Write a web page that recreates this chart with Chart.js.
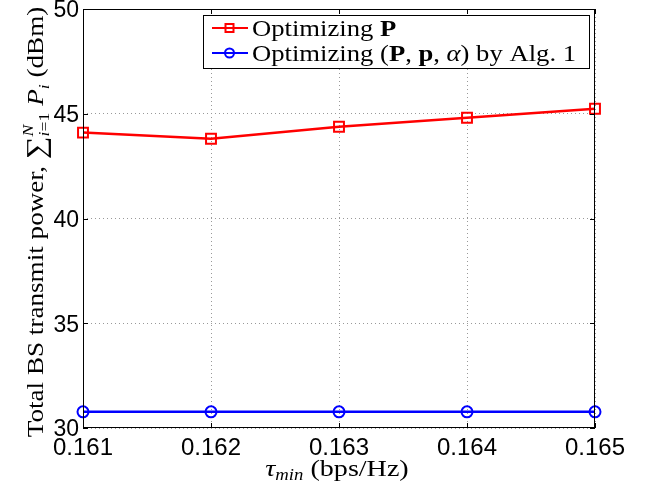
<!DOCTYPE html>
<html>
<head>
<meta charset="utf-8">
<script src="https://cdn.jsdelivr.net/npm/chart.js@4/dist/chart.umd.min.js"></script>
<style>
  html, body { margin: 0; padding: 0; background: #fff; }
  #wrap { width: 648px; height: 488px; }
</style>
</head>
<body>
<div id="wrap"><canvas id="chart"></canvas></div>
<script>
// data
const tauLabels = ['0.161', '0.162', '0.163', '0.164', '0.165'];
const powerOptP = [44.10, 43.81, 44.38, 44.81, 45.24];
const powerOptAll = [30.77, 30.77, 30.77, 30.77, 30.77];

const serif = '"Liberation Serif", "DejaVu Serif", serif';
const sans = '"Liberation Sans", Arial, sans-serif';

// draw a run of text pieces (font / baseline shift), stretched by sx (CM is wider than Times)
function drawRich(ctx, parts, x, y, align, sx) {
  sx = sx || 1;
  let total = 0;
  const widths = parts.map(p => {
    ctx.font = p.font;
    const w = ctx.measureText(p.text).width;
    if (!p.stack) total += w;
    return w;
  });
  ctx.save();
  ctx.translate(align === 'center' ? x - total * sx / 2 : x, y);
  ctx.scale(sx, 1);
  ctx.textBaseline = 'alphabetic';
  ctx.textAlign = 'left';
  let cx = 0;
  parts.forEach((p, i) => {
    ctx.font = p.font;
    ctx.fillText(p.text, cx, p.dy || 0);
    if (!p.stack) cx += widths[i];
  });
  ctx.restore();
}

const legendText = [
  [
    { text: 'Optimizing ', font: '24px ' + serif },
    { text: 'P', font: 'bold 24px ' + serif }
  ],
  [
    { text: 'Optimizing (', font: '24px ' + serif },
    { text: 'P', font: 'bold 24px ' + serif },
    { text: ', ', font: '24px ' + serif },
    { text: 'p', font: 'bold 24px ' + serif },
    { text: ', ', font: '24px ' + serif },
    { text: 'α', font: 'italic 24px ' + serif },
    { text: ') by Alg. 1', font: '24px ' + serif }
  ]
];

const matlabFrame = {
  id: 'matlabFrame',
  afterDraw(chart) {
    const ctx = chart.ctx;
    const a = chart.chartArea;
    const xs = chart.scales.x, ys = chart.scales.y;
    ctx.save();

    // box and inward ticks
    ctx.strokeStyle = '#000';
    ctx.lineWidth = 1;
    ctx.strokeRect(a.left + 0.5, a.top + 0.5, a.right - a.left - 1, a.bottom - a.top - 1);
    ctx.beginPath();
    xs.ticks.forEach((t, i) => {
      const px = Math.round(xs.getPixelForTick(i)) + 0.5;
      ctx.moveTo(px, a.bottom); ctx.lineTo(px, a.bottom - 5);
      ctx.moveTo(px, a.top); ctx.lineTo(px, a.top + 5);
    });
    ys.ticks.forEach(t => {
      const py = Math.round(ys.getPixelForValue(t.value)) + 0.5;
      ctx.moveTo(a.left, py); ctx.lineTo(a.left + 5, py);
      ctx.moveTo(a.right, py); ctx.lineTo(a.right - 5, py);
    });
    ctx.stroke();

    // legend inside the axes
    const lx = 203, ly = 15, lw = 386, lh = 53;
    ctx.fillStyle = '#fff';
    ctx.fillRect(lx, ly, lw, lh);
    ctx.strokeRect(lx + 0.5, ly + 0.5, lw, lh);
    chart.data.datasets.forEach((ds, i) => {
      const cy = ly + 13 + i * 25;
      ctx.strokeStyle = ds.borderColor;
      ctx.lineWidth = 2;
      ctx.beginPath();
      ctx.moveTo(lx + 9, cy); ctx.lineTo(lx + 45, cy);
      ctx.stroke();
      if (ds.pointStyle === 'rect') {
        ctx.strokeRect(lx + 22.5, cy - 4, 8, 8);
      } else {
        ctx.beginPath();
        ctx.arc(lx + 26.5, cy, 4.5, 0, Math.PI * 2);
        ctx.stroke();
      }
      ctx.fillStyle = '#000';
      drawRich(ctx, legendText[i], lx + 49, cy + 8, 'left', 1.11);
    });

    // axis titles
    ctx.fillStyle = '#000';
    drawRich(ctx, [
      { text: 'τ', font: 'italic 24px ' + serif },
      { text: 'min', font: 'italic 16px ' + serif, dy: 4 },
      { text: ' (bps/Hz)', font: '24px ' + serif }
    ], (a.left + a.right) / 2 - 2, 476, 'center', 1.17);

    ctx.translate(43, 222);
    ctx.rotate(-Math.PI / 2);
    drawRich(ctx, [
      { text: 'Total BS transmit power, ', font: '23px ' + serif },
      { text: '∑', font: '27px ' + serif, dy: 2 },
      { text: 'N', font: 'italic 15px ' + serif, dy: -10, stack: true },
      { text: 'i', font: 'italic 15px ' + serif, dy: 6 },
      { text: '=1', font: '15px ' + serif, dy: 6 },
      { text: ' P', font: 'italic 23px ' + serif },
      { text: 'i', font: 'italic 15px ' + serif, dy: 6 },
      { text: ' (dBm)', font: '23px ' + serif }
    ], 0, 0, 'center', 1.18);
    ctx.restore();
  }
};

new Chart(document.getElementById('chart'), {
  type: 'line',
  data: {
    labels: tauLabels,
    datasets: [{
      label: 'Optimizing P',
      data: powerOptP,
      borderColor: '#ff0000',
      backgroundColor: 'transparent',
      borderWidth: 2.5,
      pointStyle: 'rect',
      pointRadius: 7,
      pointBorderWidth: 2,
      pointBackgroundColor: 'transparent',
      tension: 0
    }, {
      label: 'Optimizing (P, p, α) by Alg. 1',
      data: powerOptAll,
      borderColor: '#0000ff',
      backgroundColor: 'transparent',
      borderWidth: 2.5,
      pointStyle: 'circle',
      pointRadius: 5.5,
      pointBorderWidth: 2,
      pointBackgroundColor: 'transparent',
      tension: 0
    }]
  },
  plugins: [matlabFrame],
  options: {
    responsive: true,
    maintainAspectRatio: false,
    animation: false,
    layout: { padding: { left: 0, top: 8, right: 53, bottom: 0 } },
    plugins: {
      legend: { display: false },
      tooltip: { enabled: false }
    },
    scales: {
      x: {
        type: 'category',
        offset: false,
        afterFit(scale) { scale.height = 60; scale.paddingLeft = 0; scale.paddingRight = 0; },
        grid: {
          color: '#999',
          lineWidth: 1,
          drawTicks: false
        },
        border: { display: false, dash: [1, 3] },
        ticks: {
          color: '#000',
          font: { family: sans, size: 24 },
          padding: 6,
          maxRotation: 0,
          autoSkip: false
        }
      },
      y: {
        min: 30,
        max: 50,
        afterFit(scale) { scale.width = 83; scale.paddingTop = 0; scale.paddingBottom = 0; },
        grid: {
          color: '#999',
          lineWidth: 1,
          drawTicks: false
        },
        border: { display: false, dash: [1, 3] },
        ticks: {
          stepSize: 5,
          color: '#000',
          font: { family: sans, size: 23 },
          padding: 4,
          labelOffset: 2
        }
      }
    }
  }
});
</script>
</body>
</html>
